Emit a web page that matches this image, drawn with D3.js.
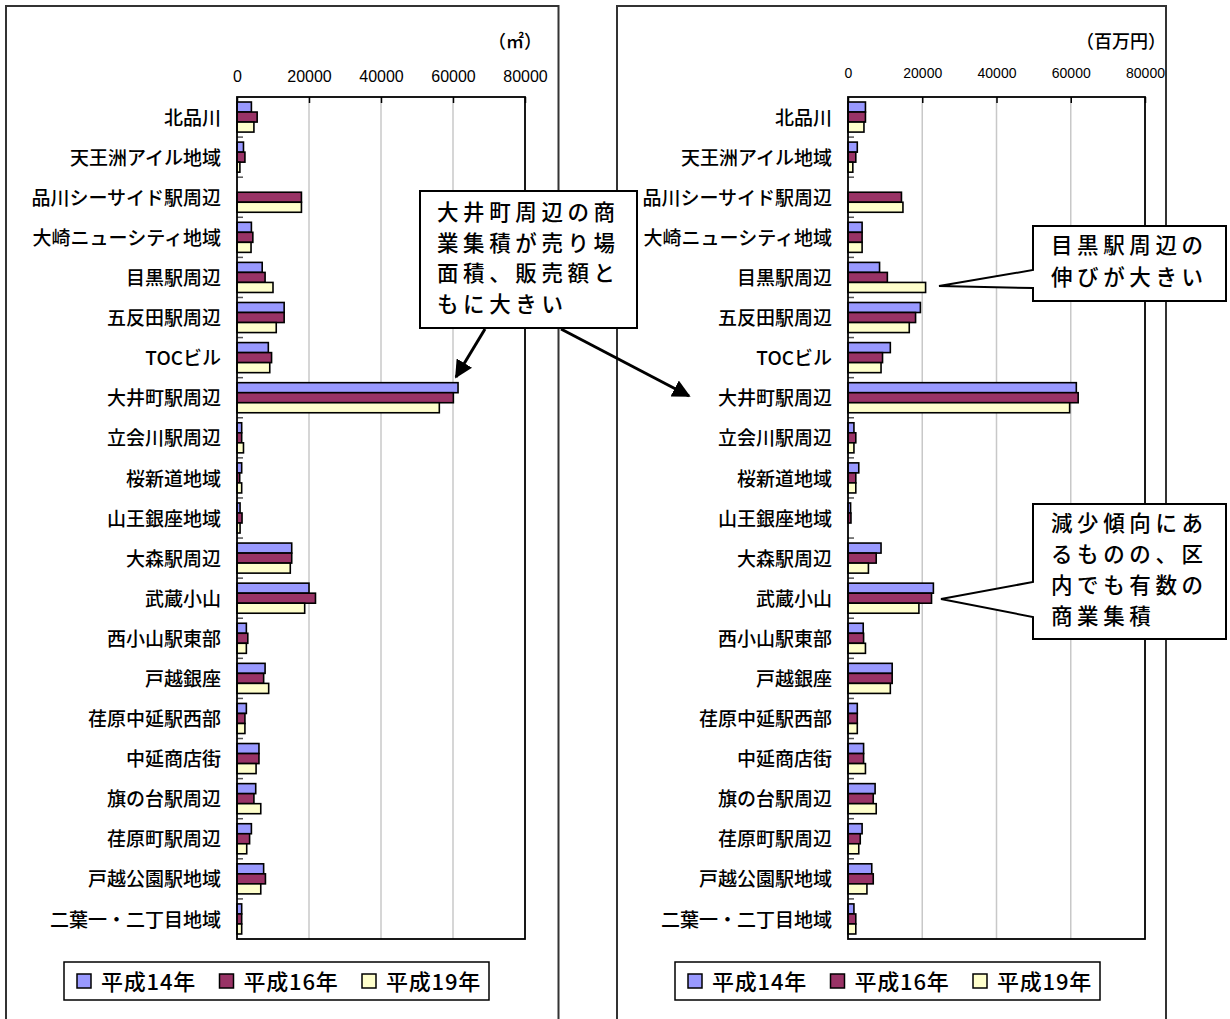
<!DOCTYPE html>
<html lang="ja">
<head>
<meta charset="utf-8">
<title>品川区 商業集積 売り場面積・販売額</title>
<script src="https://cdn.jsdelivr.net/npm/d3@7"></script>
<style>
  html, body { margin: 0; padding: 0; background: #fff; }
  svg { display: block; }
  text { font-family: "Noto Sans CJK JP", "Noto Sans", sans-serif; fill: #000; }
  .num { font-family: "Liberation Sans", Arial, sans-serif; }
</style>
</head>
<body>
<svg id="chart" width="1230" height="1019"></svg>
<script>
// Commercial districts (top to bottom)
const categories = [
  "北品川", "天王洲アイル地域", "品川シーサイド駅周辺", "大崎ニューシティ地域",
  "目黒駅周辺", "五反田駅周辺", "TOCビル", "大井町駅周辺", "立会川駅周辺",
  "桜新道地域", "山王銀座地域", "大森駅周辺", "武蔵小山", "西小山駅東部",
  "戸越銀座", "荏原中延駅西部", "中延商店街", "旗の台駅周辺", "荏原町駅周辺",
  "戸越公園駅地域", "二葉一・二丁目地域"
];

const seriesNames = ["平成14年", "平成16年", "平成19年"];

// Sales floor area (㎡)
const area14 = [4000, 1800, 0, 4000, 7000, 13100, 8700, 61400, 1300, 1300, 850, 15200, 20000, 2600, 7800, 2600, 6100, 5200, 4000, 7400, 1300];
const area16 = [5600, 2200, 17900, 4400, 7800, 13100, 9600, 60100, 1300, 750, 1400, 15200, 21800, 3000, 7400, 2200, 6100, 4700, 3500, 7900, 1300];
const area19 = [4700, 800, 17900, 3900, 10000, 10900, 9100, 56200, 1800, 1300, 850, 14800, 18800, 2600, 8800, 2200, 5300, 6600, 2700, 6600, 1300];

// Annual sales (百万円)
const sales14 = [4700, 2500, 0, 3800, 8500, 19500, 11400, 61500, 1600, 2900, 700, 8900, 23000, 4100, 11900, 2500, 4200, 7300, 3800, 6400, 1600];
const sales16 = [4700, 2100, 14400, 3800, 10600, 18200, 9300, 62000, 2100, 2100, 800, 7600, 22500, 4200, 11900, 2500, 4200, 6800, 3300, 6800, 2100];
const sales19 = [4300, 1300, 14800, 3800, 20900, 16500, 8900, 59700, 1600, 2100, 0, 5500, 19100, 4700, 11400, 2500, 4700, 7600, 2900, 5100, 2100];

const axisTicks = [0, 20000, 40000, 60000, 80000];
const seriesColors = ["#9999FF", "#993366", "#FFFFCC"];

const svg = d3.select("#chart");

const defs = svg.append("defs");
defs.append("marker")
  .attr("id", "arrowhead")
  .attr("viewBox", "0 0 10 10")
  .attr("refX", 9).attr("refY", 5)
  .attr("markerWidth", 6).attr("markerHeight", 6)
  .attr("markerUnits", "strokeWidth")
  .attr("orient", "auto")
  .append("path")
  .attr("d", "M0,0 L10,5 L0,10 Z")
  .attr("fill", "#000");

function drawPanel(opts) {
  const { frameLeft, frameRight, plotLeft, plotRight, plotTop, plotBottom,
          unit, unitX, tickFont, tickBaseline, values, legendX, clipId } = opts;

  defs.append("clipPath").attr("id", clipId)
    .append("rect").attr("x", frameLeft).attr("y", 0)
    .attr("width", frameRight - frameLeft).attr("height", 1019);

  const g = svg.append("g").attr("clip-path", `url(#${clipId})`);

  const x = d3.scaleLinear().domain([0, 80000]).range([plotLeft, plotRight]);
  const y = d3.scaleBand().domain(categories).range([plotTop, plotBottom])
    .paddingInner(0.25).paddingOuter(0.125);
  const ySub = d3.scaleBand().domain(d3.range(3)).range([0, y.bandwidth()]);

  // plot background
  g.append("rect")
    .attr("x", plotLeft).attr("y", plotTop)
    .attr("width", plotRight - plotLeft).attr("height", plotBottom - plotTop)
    .attr("fill", "#fff");

  // vertical gridlines
  g.append("g").selectAll("line")
    .data(axisTicks.slice(1, -1))
    .join("line")
    .attr("x1", d => x(d)).attr("x2", d => x(d))
    .attr("y1", plotTop).attr("y2", plotBottom)
    .attr("stroke", "#c8c8c8").attr("stroke-width", 1.5);

  // value axis along the top (inside tick marks)
  const xAxis = d3.axisTop(x).tickValues(axisTicks)
    .tickFormat(d3.format("d"))
    .tickSizeInner(-6).tickSizeOuter(0)
    .tickPadding(plotTop - tickBaseline);
  const ax = g.append("g").attr("transform", `translate(0,${plotTop})`).call(xAxis);
  ax.select(".domain").remove();
  ax.selectAll(".tick line").attr("stroke", "#000").attr("stroke-width", 1.5);
  ax.selectAll(".tick text")
    .attr("class", "num")
    .attr("font-size", tickFont)
    .style("font-family", "'Liberation Sans', Arial, sans-serif")
    .attr("fill", "#000");

  // bars
  const rows = categories.map((c, i) => ({ cat: c, vals: values.map(s => s[i]) }));
  const groups = g.append("g").selectAll("g")
    .data(rows).join("g")
    .attr("transform", d => `translate(0,${y(d.cat)})`);
  groups.selectAll("rect")
    .data(d => d.vals.map((v, k) => ({ v, k })).filter(e => e.v > 0))
    .join("rect")
    .attr("x", x(0))
    .attr("y", e => ySub(e.k))
    .attr("width", e => x(e.v) - x(0))
    .attr("height", ySub.bandwidth())
    .attr("fill", e => seriesColors[e.k])
    .attr("stroke", "#000").attr("stroke-width", 1.6);

  // category axis on the left
  const yAxis = d3.axisLeft(y).tickSize(0).tickPadding(16);
  const ay = g.append("g").attr("transform", `translate(${plotLeft},0)`).call(yAxis);
  ay.select(".domain").remove();
  ay.selectAll(".tick text")
    .attr("font-size", 19)
    .attr("font-weight", 500)
    .attr("dy", "0.4em")
    .style("font-family", "'Noto Sans CJK JP', sans-serif")
    .attr("fill", "#000");

  // category tick marks between bands
  const step = y.step();
  g.append("g").selectAll("line")
    .data(d3.range(1, categories.length))
    .join("line")
    .attr("x1", plotLeft).attr("x2", plotLeft + 6)
    .attr("y1", i => plotTop + i * step).attr("y2", i => plotTop + i * step)
    .attr("stroke", "#555").attr("stroke-width", 1.5);

  // plot area border
  g.append("rect")
    .attr("x", plotLeft).attr("y", plotTop)
    .attr("width", plotRight - plotLeft).attr("height", plotBottom - plotTop)
    .attr("fill", "none").attr("stroke", "#000").attr("stroke-width", 1.8);

  // unit label
  g.append("text")
    .attr("x", unitX).attr("y", 48)
    .attr("text-anchor", "end")
    .attr("font-size", 18)
    .attr("font-weight", 500)
    .text(unit);

  // legend
  const lg = g.append("g").attr("transform", `translate(${legendX},962)`);
  lg.append("rect").attr("width", 425).attr("height", 38)
    .attr("fill", "#fff").attr("stroke", "#000").attr("stroke-width", 1.5);
  const items = lg.selectAll("g.item").data(seriesNames).join("g")
    .attr("class", "item")
    .attr("transform", (d, i) => `translate(${13 + i * 142.5},0)`);
  items.append("rect")
    .attr("x", 0).attr("y", 12).attr("width", 14).attr("height", 14)
    .attr("fill", (d, i) => seriesColors[i])
    .attr("stroke", "#000").attr("stroke-width", 1.5);
  items.append("text")
    .attr("x", 24).attr("y", 28)
    .attr("font-size", 22)
    .attr("font-weight", 500)
    .attr("letter-spacing", 0.8)
    .text(d => d);

  // panel frame (open at the bottom)
  svg.append("path")
    .attr("d", `M${frameLeft},1019 V6 H${frameRight} V1019`)
    .attr("fill", "none").attr("stroke", "#333").attr("stroke-width", 2);
}

drawPanel({
  frameLeft: 6, frameRight: 558.5,
  plotLeft: 237, plotRight: 525, plotTop: 97, plotBottom: 939,
  unit: "（㎡）", unitX: 542, tickFont: 16, tickBaseline: 81.5,
  values: [area14, area16, area19], legendX: 64, clipId: "clip-area"
});

drawPanel({
  frameLeft: 617, frameRight: 1166,
  plotLeft: 848, plotRight: 1145, plotTop: 97, plotBottom: 939,
  unit: "（百万円）", unitX: 1166, tickFont: 14, tickBaseline: 78,
  values: [sales14, sales16, sales19], legendX: 675, clipId: "clip-sales"
});

// callouts
function calloutText(lines, x, y0, lh) {
  const t = svg.append("text").attr("font-size", 21.5).attr("font-weight", 500)
    .attr("letter-spacing", 4.6);
  lines.forEach((s, i) => {
    t.append("tspan").attr("x", x).attr("y", y0 + i * lh).text(s);
  });
}

// arrows from the 大井町 note
svg.append("line")
  .attr("x1", 485).attr("y1", 329).attr("x2", 456).attr("y2", 377)
  .attr("stroke", "#000").attr("stroke-width", 3)
  .attr("marker-end", "url(#arrowhead)");
svg.append("line")
  .attr("x1", 561).attr("y1", 329).attr("x2", 689).attr("y2", 396)
  .attr("stroke", "#000").attr("stroke-width", 3)
  .attr("marker-end", "url(#arrowhead)");

svg.append("rect")
  .attr("x", 420).attr("y", 191).attr("width", 217).attr("height", 137)
  .attr("fill", "#fff").attr("stroke", "#000").attr("stroke-width", 2);
calloutText(["大井町周辺の商", "業集積が売り場", "面積、販売額と", "もに大きい"], 437, 220, 30.7);

// wedge callouts on the sales panel
function wedgeBox(x0, y0, x1, y1, wTop, wBot, tipX, tipY) {
  const p = d3.path();
  p.moveTo(x0, y0); p.lineTo(x1, y0); p.lineTo(x1, y1); p.lineTo(x0, y1);
  p.lineTo(x0, wBot); p.lineTo(tipX, tipY); p.lineTo(x0, wTop); p.closePath();
  svg.append("path").attr("d", p.toString())
    .attr("fill", "#fff").attr("stroke", "#000").attr("stroke-width", 2)
    .attr("stroke-linejoin", "miter");
}

wedgeBox(1033, 226, 1226, 301, 270, 288, 939, 286);
calloutText(["目黒駅周辺の", "伸びが大きい"], 1051, 253, 32);

wedgeBox(1033, 504, 1226, 639, 582, 617, 941, 599);
calloutText(["減少傾向にあ", "るものの、区", "内でも有数の", "商業集積"], 1051, 531, 31);
</script>
</body>
</html>
